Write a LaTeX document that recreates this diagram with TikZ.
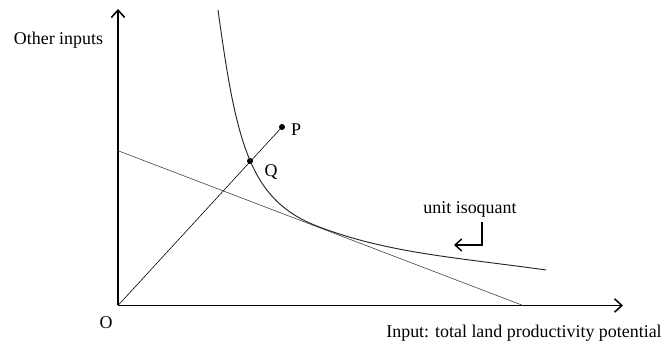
\documentclass[tikz,border=0pt]{standalone}
\usepackage{fontspec}
\setmainfont{Liberation Serif}
\usetikzlibrary{arrows.meta, positioning}

\tikzset{
  axis/.style={line width=1.5pt, -{Straight Barb[length=2.2mm, width=4mm, line width=1.3pt]}},
  pointer/.style={line width=1.2pt, -{Straight Barb[length=2mm, width=3.6mm, line width=1.2pt]}},
  thinline/.style={line width=0.5pt, black!75},
  isoline/.style={line width=0.8pt, black!85},
  dot/.style={circle, fill=black, inner sep=0pt, minimum size=1.8mm},
  lbl/.style={font=\fontsize{15.3}{18}\selectfont, inner sep=0pt},
}

\begin{document}
\begin{tikzpicture}[x=0.3mm, y=0.3mm]
  \useasboundingbox (0,0) rectangle (670,344);

  % axes
  \coordinate (O) at (118,38.5);
  \coordinate (ytip) at (118,335);
  \coordinate (xtip) at (623,38.5);
  \draw[axis] (O) -- (ytip);
  \draw[axis] (O) -- (xtip);
  \node[lbl] (ylabel) at (58.5,304) {Other inputs};
  \node[lbl] (xlabel) at (524,11) {Input: total land productivity potential};
  \node[lbl] (Olbl) at (106,21.5) {O};

  % budget line
  \coordinate (b1) at (118,193.3);
  \coordinate (b2) at (523,38.5);
  \draw[thinline] (b1) -- (b2);

  % ray through Q to P
  \node[dot] (P) at (282,217) {};
  \node[dot] (Q) at (250,183) {};
  \draw[thinline, black] (O) -- (P.center);
  \node[lbl, anchor=west] (Plbl) at (291,214) {P};
  \node[lbl] (Qlbl) at (271,172) {Q};

  % unit isoquant
  \coordinate (iso1) at (218,334);
  \coordinate (iso2) at (318,117.5);
  \coordinate (iso3) at (546,74);
  \draw[isoline] (iso1) .. controls (236.5,199) and (250.1,143.4) .. (iso2)
    .. controls (388,90.8) and (456,86.6) .. (iso3);
  \node[lbl] (isolbl) at (470,135) {unit isoquant};
  \coordinate (a1) at (482,122);
  \coordinate (a2) at (482,99);
  \coordinate (a3) at (454,99);
  \draw[pointer] (a1) -- (a2) -- (a3);
\end{tikzpicture}
\end{document}
